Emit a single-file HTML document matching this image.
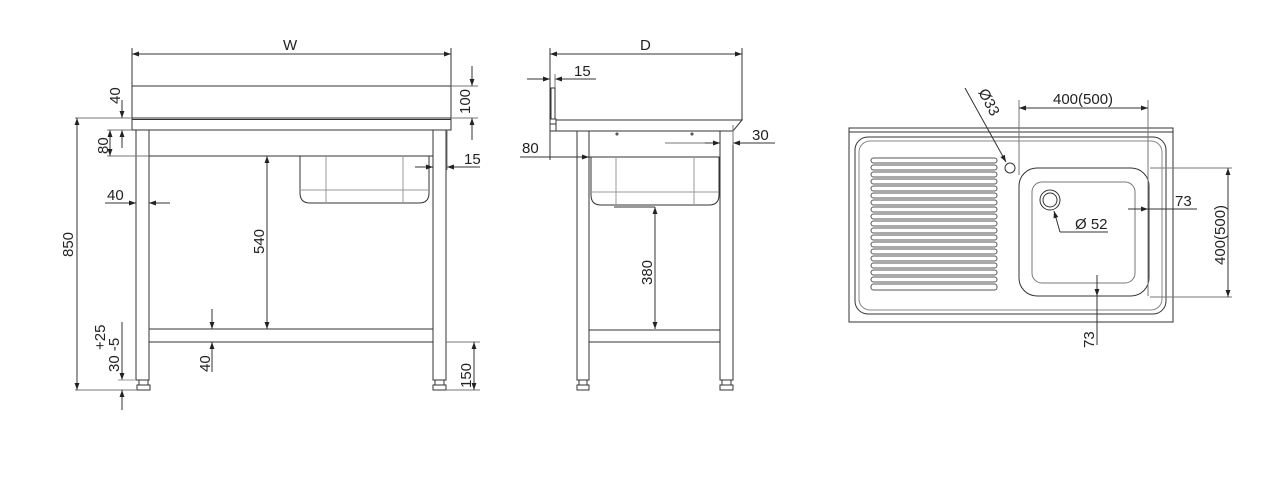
<!DOCTYPE html>
<html><head><meta charset="utf-8"><style>
html,body{margin:0;padding:0;background:#fff;}
svg{display:block}
text{font-family:"Liberation Sans",sans-serif;font-size:15px;fill:#222}
</style></head><body>
<svg width="1267" height="481" viewBox="0 0 1267 481" xmlns="http://www.w3.org/2000/svg">
<defs>
<marker id="a" viewBox="0 0 10 10" refX="10" refY="5" markerWidth="9" markerHeight="7" orient="auto-start-reverse" markerUnits="userSpaceOnUse"><path d="M0,1.5 L10,5 L0,8.5 z" fill="#222"/></marker>
</defs>
<g stroke="#333" stroke-width="1" fill="none">
<!-- FRONT VIEW -->
<line x1="132" y1="48" x2="132" y2="130"/>
<line x1="451" y1="48" x2="451" y2="130"/>
<line x1="132" y1="54" x2="451" y2="54" marker-start="url(#a)" marker-end="url(#a)"/>
<rect x="132" y="86" width="319" height="32"/>
<rect x="132" y="118" width="319" height="12"/>
<line x1="132" y1="119.5" x2="451" y2="119.5"/>
<rect x="136" y="130" width="13" height="250"/>
<rect x="433" y="130" width="13" height="250"/>
<line x1="149" y1="156" x2="433" y2="156"/>
<rect x="149" y="329" width="284" height="13"/>
<rect x="139" y="380" width="9" height="5"/><rect x="137" y="385" width="13" height="5"/>
<rect x="435" y="380" width="9" height="5"/><rect x="433" y="385" width="13" height="5"/>
<path d="M300,156 V193 Q300,203 310,203 H419 Q429,203 429,193 V156"/>
<line x1="300" y1="190" x2="429" y2="190" stroke="#999"/>
<line x1="326" y1="156" x2="326" y2="203" stroke="#999"/>
<line x1="403" y1="156" x2="403" y2="203" stroke="#999"/>
<line x1="75" y1="118" x2="132" y2="118" stroke="#777"/>
<line x1="75" y1="390" x2="137" y2="390" stroke="#777"/>
<line x1="77" y1="118" x2="77" y2="390" marker-start="url(#a)" marker-end="url(#a)"/>
<line x1="122" y1="100" x2="122" y2="118" marker-end="url(#a)"/>
<line x1="122" y1="148" x2="122" y2="130" marker-end="url(#a)"/>
<line x1="107" y1="130" x2="132" y2="130" stroke="#777"/>
<line x1="107" y1="156" x2="149" y2="156" stroke="#777"/>
<line x1="110" y1="130" x2="110" y2="156" marker-start="url(#a)" marker-end="url(#a)"/>
<line x1="105" y1="203" x2="136" y2="203" marker-end="url(#a)"/>
<line x1="170" y1="203" x2="149" y2="203" marker-end="url(#a)"/>
<line x1="267" y1="156" x2="267" y2="329" marker-start="url(#a)" marker-end="url(#a)"/>
<line x1="212" y1="309" x2="212" y2="329" marker-end="url(#a)"/>
<line x1="212" y1="372" x2="212" y2="342" marker-end="url(#a)"/>
<line x1="122" y1="322" x2="122" y2="380" marker-end="url(#a)"/>
<line x1="122" y1="410" x2="122" y2="390" marker-end="url(#a)"/>
<line x1="118" y1="380" x2="136" y2="380" stroke="#999"/>
<line x1="446" y1="342" x2="480" y2="342" stroke="#777"/>
<line x1="446" y1="390" x2="480" y2="390" stroke="#777"/>
<line x1="474" y1="342" x2="474" y2="390" marker-start="url(#a)" marker-end="url(#a)"/>
<line x1="451" y1="86" x2="478" y2="86" stroke="#777"/>
<line x1="451" y1="118" x2="478" y2="118" stroke="#777"/>
<line x1="472" y1="66" x2="472" y2="86" marker-end="url(#a)"/>
<line x1="472" y1="140" x2="472" y2="118" marker-end="url(#a)"/>
<line x1="415" y1="167" x2="433" y2="167" marker-end="url(#a)"/>
<line x1="480" y1="167" x2="447" y2="167" marker-end="url(#a)"/>
<line x1="447" y1="130" x2="447" y2="170" stroke="#777"/>

<!-- SIDE VIEW -->
<line x1="550" y1="48" x2="550" y2="160"/>
<line x1="742" y1="48" x2="742" y2="120"/>
<line x1="550" y1="54" x2="742" y2="54" marker-start="url(#a)" marker-end="url(#a)"/>
<line x1="527" y1="79" x2="550" y2="79" marker-end="url(#a)"/>
<line x1="596" y1="79" x2="555" y2="79" marker-end="url(#a)"/>
<line x1="555" y1="74" x2="555" y2="88" stroke="#777"/>
<rect x="551" y="88" width="4" height="31"/>
<rect x="550" y="119" width="6" height="5"/>
<path d="M556,120 H742 L733,131 H550"/>
<line x1="556" y1="124" x2="556" y2="131"/>
<rect x="577" y="131" width="12" height="249"/>
<rect x="720" y="131" width="13" height="249"/>
<line x1="589" y1="157" x2="720" y2="157"/>
<path d="M591,157 V195 Q591,205 601,205 H709 Q719,205 719,195 V157"/>
<line x1="591" y1="192" x2="719" y2="192" stroke="#999"/>
<line x1="616" y1="157" x2="616" y2="205" stroke="#999"/>
<line x1="694" y1="157" x2="694" y2="205" stroke="#999"/>
<line x1="614" y1="207" x2="655" y2="207"/>
<rect x="589" y="330" width="131" height="12"/>
<rect x="579" y="380" width="8" height="5"/><rect x="577" y="385" width="12" height="5"/>
<rect x="722" y="380" width="9" height="5"/><rect x="720" y="385" width="13" height="5"/>
<line x1="520" y1="157" x2="589" y2="157" marker-end="url(#a)"/>
<line x1="665" y1="143" x2="720" y2="143" stroke="#777"/>
<line x1="705" y1="143" x2="720" y2="143" marker-end="url(#a)"/>
<line x1="775" y1="143" x2="733" y2="143" marker-end="url(#a)"/>
<line x1="733" y1="125" x2="733" y2="145" stroke="#777"/>
<line x1="655" y1="207" x2="655" y2="329" marker-start="url(#a)" marker-end="url(#a)"/>
<circle cx="617" cy="134" r="1"/><circle cx="692" cy="134" r="1"/>

<!-- TOP VIEW -->
<rect x="849" y="128" width="324" height="194"/>
<line x1="849" y1="132" x2="1173" y2="132"/>
<rect x="855" y="137" width="311" height="177" rx="13"/>
<rect x="859" y="141" width="303" height="169" rx="11" stroke="#888"/>
<g stroke="#555">
<rect x="871" y="158" width="126" height="5" rx="2.5"/>
<rect x="871" y="165" width="126" height="5" rx="2.5"/>
<rect x="871" y="172" width="126" height="5" rx="2.5"/>
<rect x="871" y="179" width="126" height="5" rx="2.5"/>
<rect x="871" y="186" width="126" height="5" rx="2.5"/>
<rect x="871" y="193" width="126" height="5" rx="2.5"/>
<rect x="871" y="200" width="126" height="5" rx="2.5"/>
<rect x="871" y="207" width="126" height="5" rx="2.5"/>
<rect x="871" y="214" width="126" height="5" rx="2.5"/>
<rect x="871" y="221" width="126" height="5" rx="2.5"/>
<rect x="871" y="228" width="126" height="5" rx="2.5"/>
<rect x="871" y="235" width="126" height="5" rx="2.5"/>
<rect x="871" y="242" width="126" height="5" rx="2.5"/>
<rect x="871" y="249" width="126" height="5" rx="2.5"/>
<rect x="871" y="256" width="126" height="5" rx="2.5"/>
<rect x="871" y="263" width="126" height="5" rx="2.5"/>
<rect x="871" y="270" width="126" height="5" rx="2.5"/>
<rect x="871" y="277" width="126" height="5" rx="2.5"/>
<rect x="871" y="284" width="126" height="6" rx="2.5"/>
</g>
<circle cx="1010" cy="168" r="5"/>
<line x1="965" y1="88" x2="1006" y2="162" marker-end="url(#a)"/>
<rect x="1019" y="168" width="130" height="128" rx="18"/>
<rect x="1032" y="182" width="103" height="101" rx="10" stroke="#777"/>
<circle cx="1050" cy="200" r="10"/><circle cx="1050" cy="200" r="7"/>
<path d="M1060,232 L1054,211" marker-end="url(#a)"/>
<line x1="1060" y1="232" x2="1108" y2="232"/>
<line x1="1019" y1="100" x2="1019" y2="175" stroke="#777"/>
<line x1="1148" y1="100" x2="1148" y2="296" stroke="#777"/>
<line x1="1019" y1="108" x2="1148" y2="108" marker-start="url(#a)" marker-end="url(#a)"/>
<line x1="1128" y1="209" x2="1148" y2="209" marker-end="url(#a)"/>
<line x1="1197" y1="209" x2="1148" y2="209"/>
<line x1="1150" y1="168" x2="1232" y2="168" stroke="#777"/>
<line x1="1150" y1="297" x2="1232" y2="297" stroke="#777"/>
<line x1="1228" y1="168" x2="1228" y2="297" marker-start="url(#a)" marker-end="url(#a)"/>
<line x1="1097" y1="275" x2="1097" y2="296" marker-end="url(#a)"/>
<line x1="1097" y1="345" x2="1097" y2="296"/>
</g>
<text x="283" y="50">W</text>
<text transform="translate(120,104) rotate(-90)">40</text>
<text transform="translate(108,154) rotate(-90)">80</text>
<text x="107" y="200">40</text>
<text transform="translate(73,257) rotate(-90)">850</text>
<text transform="translate(264,254) rotate(-90)">540</text>
<text transform="translate(210,372) rotate(-90)">40</text>
<text transform="translate(105,350) rotate(-90)">+25</text>
<text transform="translate(119,372) rotate(-90)">30 -5</text>
<text transform="translate(471,388) rotate(-90)">150</text>
<text transform="translate(470,114) rotate(-90)">100</text>
<text x="464" y="164">15</text>
<text x="640" y="50">D</text>
<text x="574" y="76">15</text>
<text x="522" y="153">80</text>
<text x="752" y="140">30</text>
<text transform="translate(652,285) rotate(-90)">380</text>
<text transform="translate(978,92) rotate(62)">Ø33</text>
<text x="1053" y="104">400(500)</text>
<text x="1075" y="229">Ø 52</text>
<text x="1175" y="206">73</text>
<text transform="translate(1225,265) rotate(-90)">400(500)</text>
<text transform="translate(1094,348) rotate(-90)">73</text>
</svg>
</body></html>
